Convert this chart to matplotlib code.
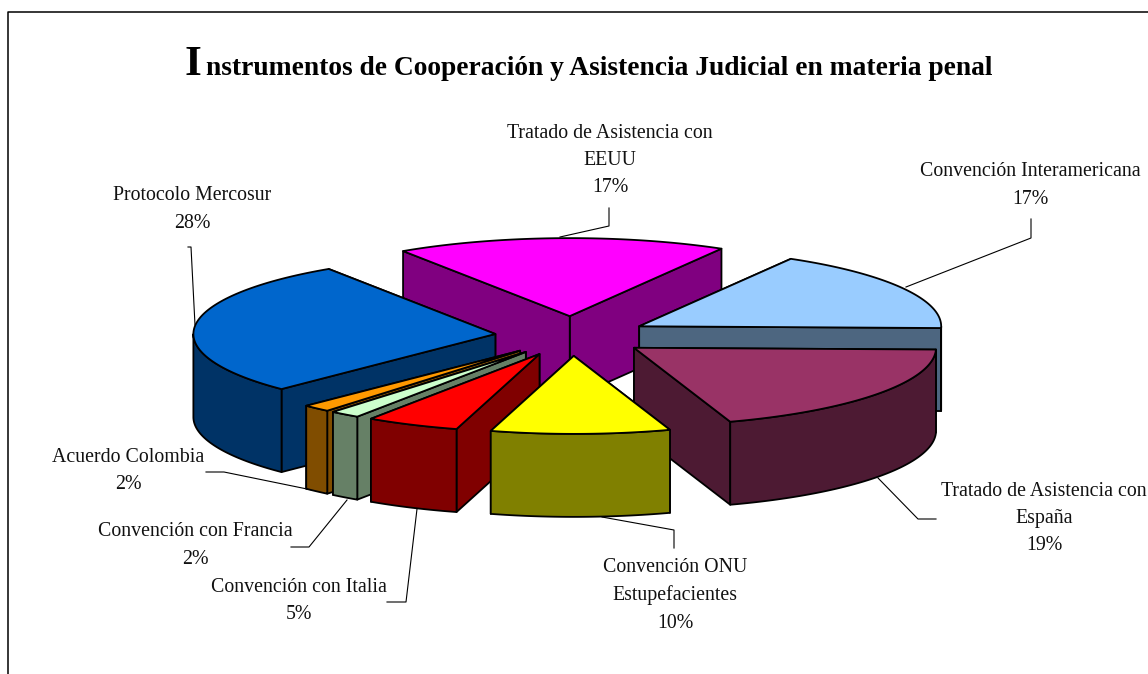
import numpy as np
import matplotlib
matplotlib.use("Agg")
import matplotlib.pyplot as plt
from matplotlib.patches import Polygon

categories = ["Tratado de Asistencia con\nEEUU", "Convención Interamericana",
              "Tratado de Asistencia con\nEspaña", "Convención ONU\nEstupefacientes",
              "Convención con Italia", "Convención con Francia",
              "Acuerdo Colombia", "Protocolo Mercosur"]
values = [17.7, 17.0, 19.5, 9.6, 5.0, 1.6, 1.5, 28.2]
percent_labels = ["17%", "17%", "19%", "10%", "5%", "2%", "2%", "28%"]
top_colors = ["#FF00FF", "#99CCFF", "#993366", "#FFFF00", "#FF0000", "#CCFFCC", "#FF9900", "#0066CC"]
side_colors = ["#800080", "#4D6680", "#4D1A33", "#808000", "#800000", "#668066", "#804D00", "#003366"]

W, H = 1148, 674
CX, CY, RX, RY, DEPTH, EXPLODE, START = 572, 336, 302, 78, 83, 0.255, -33.5
draw_order = [0, 1, 7, 6, 5, 4, 2, 3]
label_pos = [(610, 133), (1030, 172), (1044, 491), (675, 568), (299, 587), (195, 532), (128, 457), (192, 196)]
leaders = [[(609, 208), (609, 226), (560, 237)],
           [(1031, 219), (1031, 238), (906, 287)],
           [(878, 478), (918, 519), (936, 519)],
           [(602, 517), (674, 530), (674, 548)],
           [(417, 509), (406, 602), (387, 602)],
           [(347, 500), (309, 547), (291, 547)],
           [(312, 490), (224, 472), (206, 472)],
           [(188, 247), (191, 247), (195, 325)]]
SERIF = "Liberation Serif"
LINE = 27.5
FS = 14.3

fig = plt.figure(figsize=(W / 100, H / 100), dpi=100, facecolor="white")
ax = fig.add_axes([0, 0, 1, 1])
ax.set_xlim(0, W)
ax.set_ylim(H, 0)
ax.axis("off")

ax.plot([8, 8, W + 5], [H + 5, 12, 12], color="black", lw=1.1, zorder=1)

fracs = np.array(values) / np.sum(values)
edges = START + 360 * np.concatenate([[0], np.cumsum(fracs)])


def ell(ox, oy, deg):
    t = np.radians(deg)
    return ox + RX * np.sin(t), oy - RY * np.cos(t)


z = 5
EC = dict(edgecolor="black", linewidth=1.3, joinstyle="round")
for i in draw_order:
    a0, a1 = edges[i], edges[i + 1]
    mid = np.radians((a0 + a1) / 2)
    ox = CX + EXPLODE * RX * np.sin(mid)
    oy = CY - EXPLODE * RY * np.cos(mid)
    arc = np.linspace(a0, a1, 80)
    ax_, ay_ = ell(ox, oy, arc)
    top = np.column_stack([np.r_[ox, ax_], np.r_[oy, ay_]])
    walls = []
    for a in (a0, a1):
        ex, ey = ell(ox, oy, a)
        walls.append(((ey + oy) / 2, [(ox, oy), (ex, ey), (ex, ey + DEPTH), (ox, oy + DEPTH)]))
    for _, w in sorted(walls, key=lambda q: q[0]):
        ax.add_patch(Polygon(w, closed=True, facecolor=side_colors[i], zorder=z, **EC))
        z += 1
    lo, hi = max(a0, 90), min(a1, 270)
    if hi > lo:
        vis = np.linspace(lo, hi, 80)
        vx, vy = ell(ox, oy, vis)
        poly = np.column_stack([np.r_[vx, vx[::-1]], np.r_[vy, vy[::-1] + DEPTH]])
        ax.add_patch(Polygon(poly, closed=True, facecolor=side_colors[i], zorder=z, **EC))
        z += 1
    ax.add_patch(Polygon(top, closed=True, facecolor=top_colors[i], zorder=z, **EC))
    z += 1

for pts in leaders:
    xs, ys = zip(*pts)
    ax.plot(xs, ys, color="black", lw=0.8, zorder=2)

for cat, pct, (x, y) in zip(categories, percent_labels, label_pos):
    for k, line in enumerate(cat.split("\n") + [pct]):
        ax.text(x, y + k * LINE, line, ha="center", va="center", family=SERIF,
                fontsize=FS, color="#111111", zorder=100)

ax.text(185, 75, "I", family=SERIF, weight="bold", fontsize=31, ha="left", va="baseline", zorder=100)
ax.text(206, 75, "nstrumentos de Cooperación y Asistencia Judicial en materia penal",
        family=SERIF, weight="bold", fontsize=19.8, ha="left", va="baseline", zorder=100)

fig.savefig("out.png", dpi=100)
